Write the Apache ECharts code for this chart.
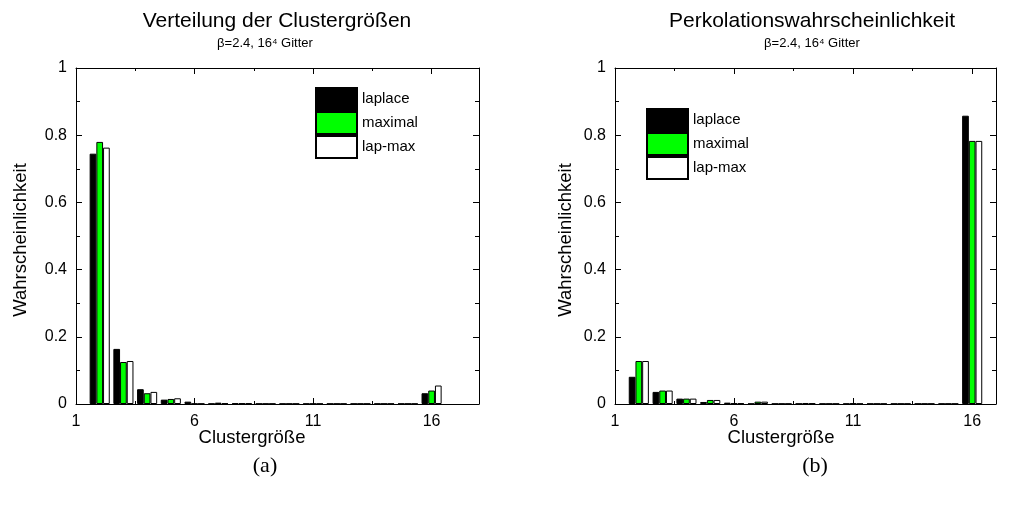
<!DOCTYPE html>
<html>
<head>
<meta charset="utf-8">
<script src="https://cdn.jsdelivr.net/npm/echarts@6/dist/echarts.min.js"></script>
<style>
  html, body { margin: 0; padding: 0; background: #fff; }
  #chart { width: 1010px; height: 507px; }
</style>
</head>
<body>
<div id="chart"></div>
<script>
// Cluster sizes (bar group positions on the x axis)
const clusterSizes = [2, 3, 4, 5, 6, 7, 8, 9, 10, 11, 12, 13, 14, 15, 16];
const seriesNames = ['laplace', 'maximal', 'lap-max'];

// (a) distribution of cluster sizes
const distLaplace = [0.745, 0.164, 0.044, 0.013, 0.007, 0.001, 0.002, 0.001, 0.001, 0.001, 0.001, 0.001, 0.001, 0.001, 0.032];
const distMaximal = [0.780, 0.125, 0.032, 0.015, 0.001, 0.004, 0.002, 0.001, 0.001, 0.001, 0.001, 0.001, 0.001, 0.001, 0.040];
const distLapMax  = [0.763, 0.128, 0.036, 0.017, 0.001, 0.002, 0.002, 0.001, 0.001, 0.001, 0.001, 0.001, 0.001, 0.001, 0.055];

// (b) percolation probability
const percLaplace = [0.081, 0.036, 0.016, 0.006, 0.004, 0.001, 0.001, 0.001, 0.001, 0.001, 0.001, 0.001, 0.001, 0.001, 0.858];
const percMaximal = [0.128, 0.040, 0.016, 0.012, 0.002, 0.007, 0.001, 0.003, 0.001, 0.002, 0.001, 0.001, 0.001, 0.001, 0.783];
const percLapMax  = [0.128, 0.040, 0.016, 0.012, 0.002, 0.007, 0.001, 0.002, 0.001, 0.001, 0.001, 0.001, 0.001, 0.001, 0.783];

// Axis ticks
const xMajorTicks = [1, 6, 11, 16];
const xMinorTicks = [3.5, 8.5, 13.5];
const xMaxLeft = 18;
const xMaxRight = 17;

const FONT = '"Liberation Sans", Arial, Helvetica, sans-serif';
const SERIF = '"Liberation Serif", "DejaVu Serif", serif';
const colors = ['#000000', '#00ff00', '#ffffff'];

const chart = echarts.init(document.getElementById('chart'));

function xAxesFor(gridIndex, max) {
  const base = { type: 'value', gridIndex, min: 1, max, splitLine: { show: false } };
  const line = { show: true, lineStyle: { color: '#000', width: 1 } };
  return [
    { ...base, position: 'bottom', axisLine: line,
      axisTick: { show: true, inside: true, length: 6, customValues: xMajorTicks, lineStyle: { color: '#000' } },
      axisLabel: { show: true, customValues: xMajorTicks, margin: 10, color: '#000', fontSize: 16, fontFamily: FONT } },
    { ...base, position: 'bottom', axisLine: { show: false },
      axisTick: { show: true, inside: true, length: 3, customValues: xMinorTicks, lineStyle: { color: '#000' } },
      axisLabel: { show: false } },
    { ...base, position: 'top', axisLine: line,
      axisTick: { show: true, inside: true, length: 6, customValues: xMajorTicks, lineStyle: { color: '#000' } },
      axisLabel: { show: false } },
    { ...base, position: 'top', axisLine: { show: false },
      axisTick: { show: true, inside: true, length: 3, customValues: xMinorTicks, lineStyle: { color: '#000' } },
      axisLabel: { show: false } }
  ];
}

function yAxesFor(gridIndex) {
  const base = {
    type: 'value', gridIndex, min: 0, max: 1, interval: 0.2, splitLine: { show: false },
    axisLine: { show: true, lineStyle: { color: '#000', width: 1 } },
    axisTick: { show: true, inside: true, length: 6, lineStyle: { color: '#000' } },
    minorTick: { show: true, splitNumber: 2, length: 4, lineStyle: { color: '#000' } },
    minorSplitLine: { show: false }
  };
  return [
    { ...base, position: 'left',
      axisLabel: { show: true, margin: 9, color: '#000', fontSize: 16, fontFamily: FONT,
        formatter: v => String(Math.round(v * 10) / 10) } },
    { ...base, position: 'right', axisLabel: { show: false } }
  ];
}

function barSeries(name, values, color, xAxisIndex, yAxisIndex) {
  return {
    type: 'bar', name, xAxisIndex, yAxisIndex,
    data: clusterSizes.map((c, i) => [c, values[i]]),
    barWidth: 6.7, barGap: '0%',
    itemStyle: { color, borderColor: '#000', borderWidth: 1 },
    emphasis: { disabled: true },
    animation: false
  };
}

function legendAt(left, top) {
  return {
    orient: 'vertical', left, top, data: seriesNames, icon: 'rect',
    itemWidth: 41, itemHeight: 22, itemGap: 0, padding: 0,
    textStyle: { color: '#000', fontSize: 15, fontFamily: FONT },
    selectedMode: false
  };
}

function centeredText(x, y, text, size, family, rotation) {
  return {
    type: 'text', x, y, rotation: rotation || 0,
    style: { text, fill: '#000', fontSize: size, fontFamily: family || FONT, align: 'center', verticalAlign: 'middle' }
  };
}

chart.setOption({
  animation: false,
  backgroundColor: '#fff',
  grid: [
    { left: 76, top: 68, width: 403, height: 336 },
    { left: 615, top: 68, width: 381, height: 336 }
  ],
  xAxis: [...xAxesFor(0, xMaxLeft), ...xAxesFor(1, xMaxRight)],
  yAxis: [...yAxesFor(0), ...yAxesFor(1)],
  legend: [legendAt(315, 87), legendAt(646, 108)],
  series: [
    barSeries('laplace', distLaplace, colors[0], 0, 0),
    barSeries('maximal', distMaximal, colors[1], 0, 0),
    barSeries('lap-max', distLapMax, colors[2], 0, 0),
    barSeries('laplace', percLaplace, colors[0], 4, 2),
    barSeries('maximal', percMaximal, colors[1], 4, 2),
    barSeries('lap-max', percLapMax, colors[2], 4, 2)
  ],
  graphic: [
    centeredText(277, 21, 'Verteilung der Clustergrößen', 21),
    centeredText(265, 43, 'β=2.4, 16⁴ Gitter', 13),
    centeredText(812, 21, 'Perkolationswahrscheinlichkeit', 21),
    centeredText(812, 43, 'β=2.4, 16⁴ Gitter', 13),
    centeredText(21, 240, 'Wahrscheinlichkeit', 18.5, FONT, Math.PI / 2),
    centeredText(566, 240, 'Wahrscheinlichkeit', 18.5, FONT, Math.PI / 2),
    centeredText(252, 438, 'Clustergröße', 18.5),
    centeredText(781, 438, 'Clustergröße', 18.5),
    centeredText(265, 466, '(a)', 22, SERIF),
    centeredText(815, 466, '(b)', 22, SERIF)
  ]
});
</script>
</body>
</html>
